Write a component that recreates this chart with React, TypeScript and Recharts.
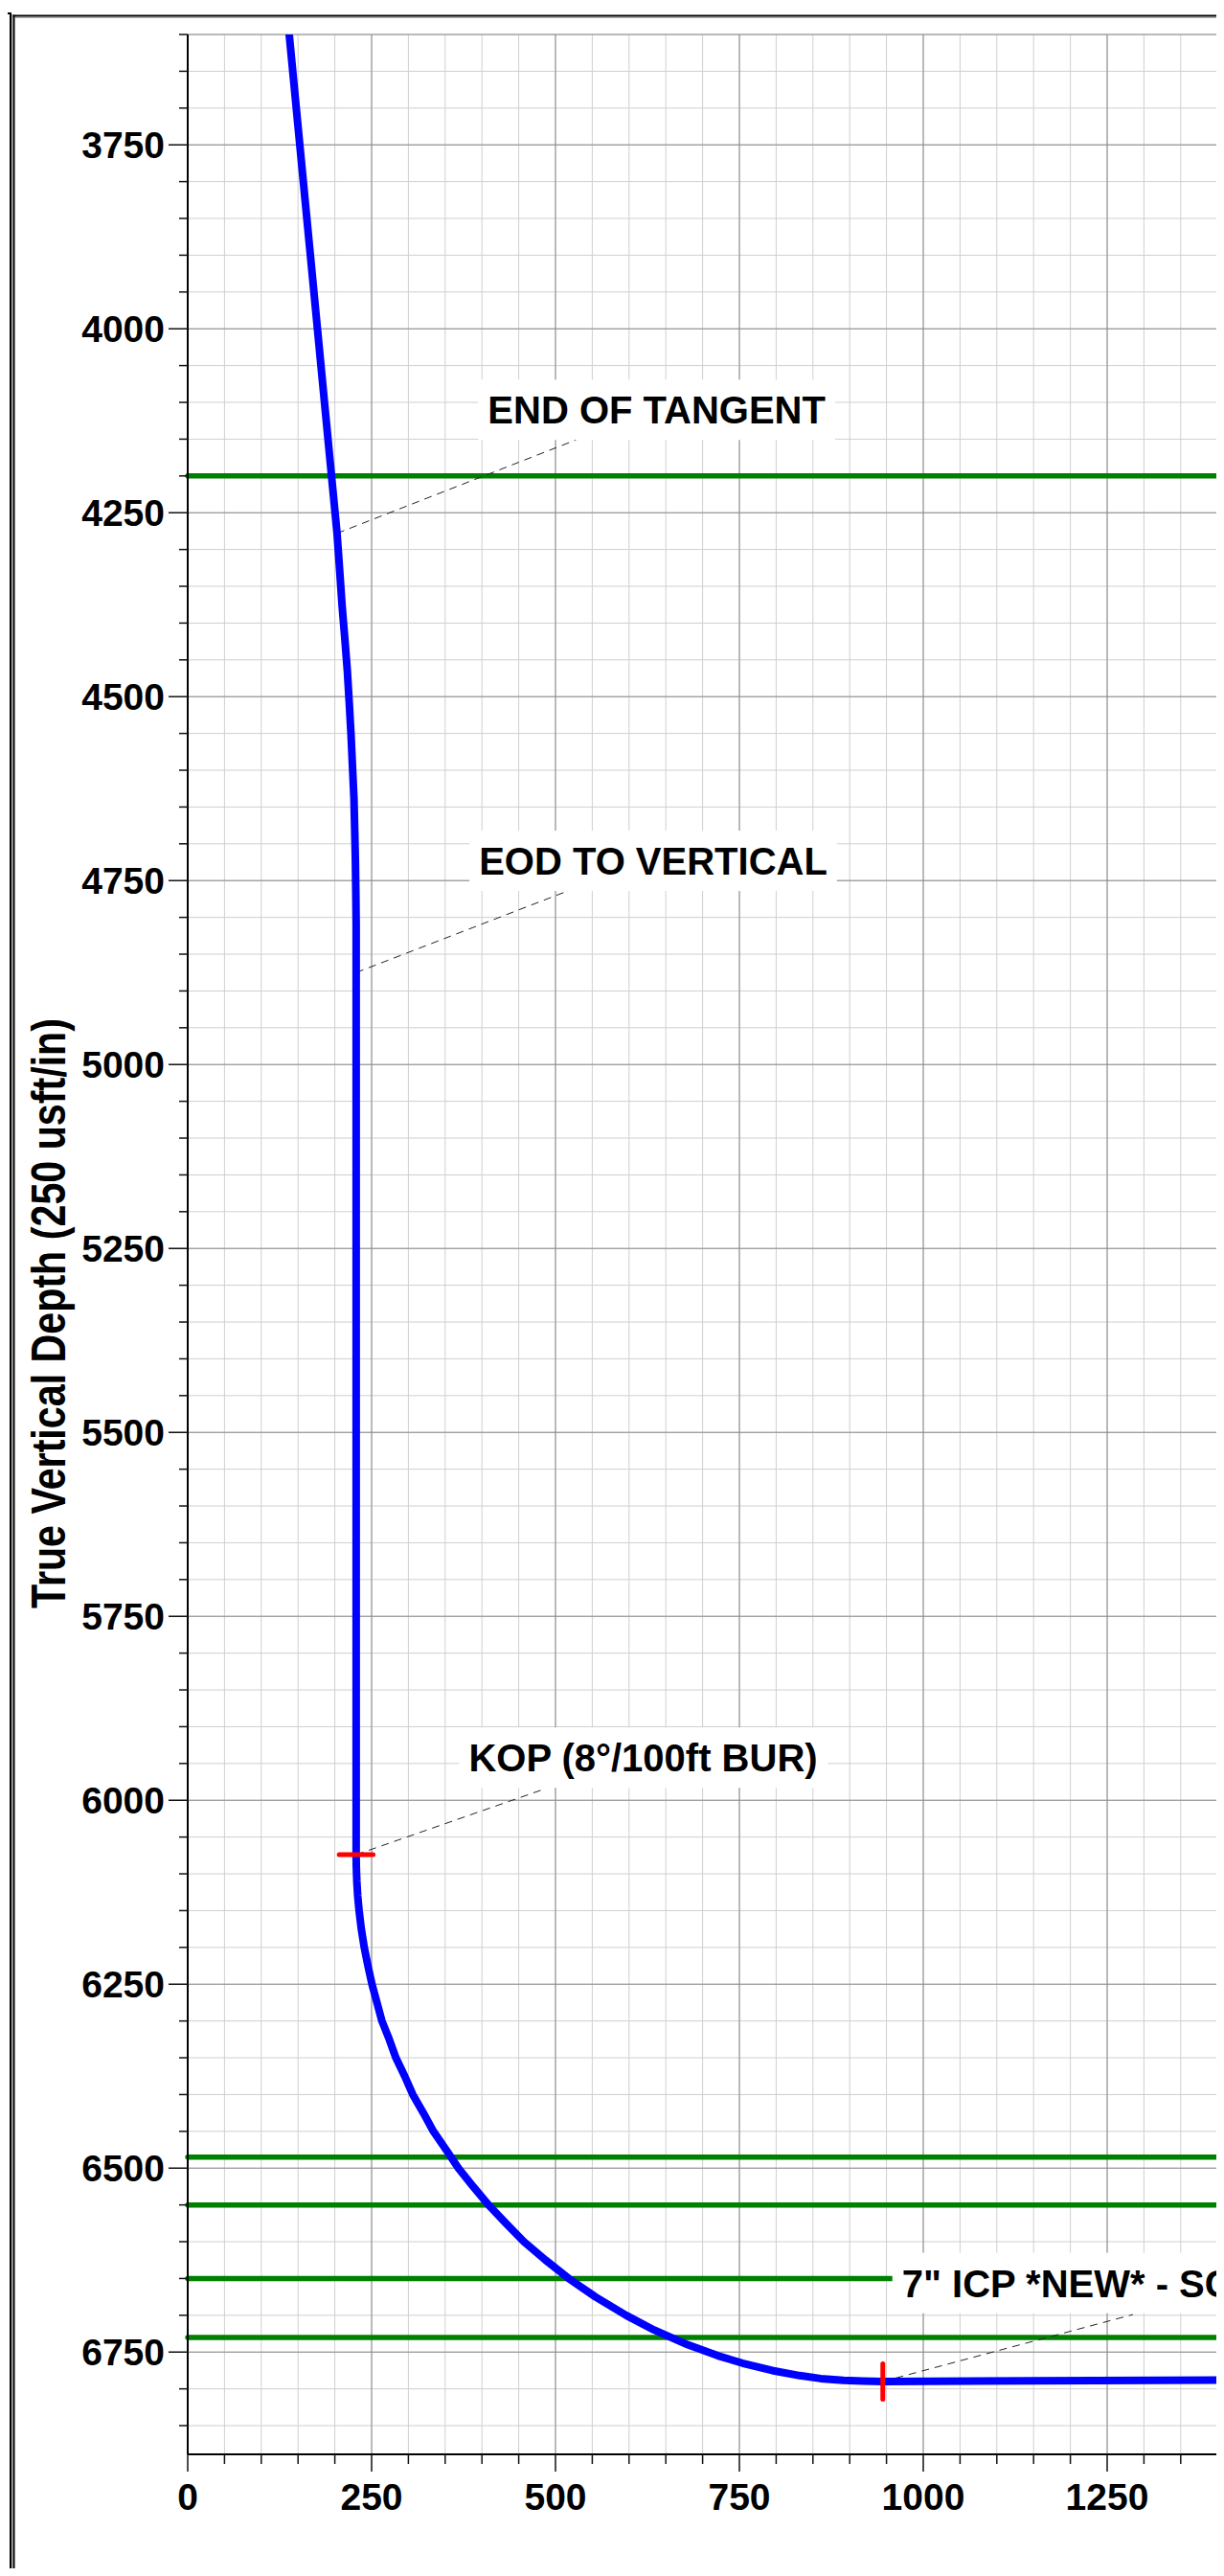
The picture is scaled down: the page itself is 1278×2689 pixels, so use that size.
import React from 'react';
import { LineChart, Line, XAxis, YAxis, CartesianGrid, ReferenceLine, ReferenceDot } from 'recharts';

// Well path: horizontal displacement (usft) vs TVD (usft)
const pathX = [
  138, 203, 206, 210, 213.5, 217, 219.7, 222, 224, 226, 227, 228, 228.6, 229, 229, 229,
  229.2, 229.9, 231.1, 233, 236, 240, 245, 250.5, 257.3, 264, 274, 283, 295, 306, 320.4, 334, 351.2, 368,
  388, 409, 432.5, 457, 486.5, 518, 554.3, 596, 634, 679.7, 720.8, 754, 794.5, 832, 860.5, 891.5, 918, 945,
  1409, 1500,
];
const pathTvd = [
  3600, 4278, 4320, 4378, 4420, 4465, 4510, 4551, 4595, 4638, 4680, 4725, 4770, 4810, 4875, 6074,
  6090, 6110, 6130, 6150, 6175, 6200, 6225, 6250, 6275, 6300, 6325, 6350, 6375, 6400, 6425, 6450, 6475, 6500,
  6525, 6550, 6575, 6600, 6625, 6650, 6675, 6700, 6720, 6740, 6755, 6765, 6775, 6782, 6786, 6788.5, 6789.5, 6790,
  6788, 6787,
];

// formation tops (green)
const formationTops = [4200, 6485, 6550, 6650, 6730];

// annotations: point on path, text anchor (left/baseline), leader end
const annoText = ['END OF TANGENT', 'EOD TO VERTICAL', 'KOP (8°/100ft BUR)', '7" ICP *NEW* - SC'];
const annoPointX = [203, 229, 229, 945];
const annoPointY = [4278, 4875, 6074, 6790];
const annoTextX = [408, 396, 382, 971];
const annoTextY = [4129, 4742, 5961, 6675];
const annoTipX = [528, 517, 487, 1285];
const annoTipY = [4151, 4764, 5984, 6699];

const xTicks = [0, 50, 100, 150, 200, 250, 300, 350, 400, 450, 500, 550, 600, 650, 700, 750, 800, 850, 900, 950, 1000, 1050, 1100, 1150, 1200, 1250, 1300, 1350, 1400, 1450, 1500];
const xMajor = [0, 250, 500, 750, 1000, 1250, 1500];
const yTicks = [
  3600, 3650, 3700, 3750, 3800, 3850, 3900, 3950, 4000, 4050, 4100, 4150, 4200, 4250, 4300, 4350, 4400, 4450, 4500, 4550,
  4600, 4650, 4700, 4750, 4800, 4850, 4900, 4950, 5000, 5050, 5100, 5150, 5200, 5250, 5300, 5350, 5400, 5450, 5500, 5550,
  5600, 5650, 5700, 5750, 5800, 5850, 5900, 5950, 6000, 6050, 6100, 6150, 6200, 6250, 6300, 6350, 6400, 6450, 6500, 6550,
  6600, 6650, 6700, 6750, 6800, 6850,
];
const yMajor = [3600, 3750, 4000, 4250, 4500, 4750, 5000, 5250, 5500, 5750, 6000, 6250, 6500, 6750];

const FONT = '"Liberation Sans", Arial, sans-serif';
const NARROW = '"Liberation Sans Narrow", "Arial Narrow", "Liberation Sans", Arial, sans-serif';

const wellPath = pathX.map((x, i) => ({ x, tvd: pathTvd[i] }));

let ctx: CanvasRenderingContext2D | null = null;
const textWidth = (t: string) => {
  if (!ctx) ctx = document.createElement('canvas').getContext('2d');
  if (!ctx) return t.length * 24;
  ctx.font = `bold 40px ${FONT}`;
  return ctx.measureText(t).width;
};

const YTick = (props: any) => {
  const { x, y, payload } = props;
  const major = payload.value % 250 === 0;
  return (
    <g>
      <line x1={x - (major ? 20 : 9)} x2={x} y1={y} y2={y} stroke="#111" strokeWidth={1.5} />
      {major && (
        <text x={x - 24} y={y} dy={14} textAnchor="end" fontFamily={FONT} fontWeight="bold" fontSize={39} fill="#000">
          {payload.value}
        </text>
      )}
    </g>
  );
};

const XTick = (props: any) => {
  const { x, y, payload } = props;
  const major = payload.value % 250 === 0;
  return (
    <g>
      <line x1={x} x2={x} y1={y} y2={y + (major ? 18 : 10)} stroke="#111" strokeWidth={1.5} />
      {major && (
        <text x={x} y={y + 58} textAnchor="middle" fontFamily={FONT} fontWeight="bold" fontSize={39} fill="#000">
          {payload.value}
        </text>
      )}
    </g>
  );
};

const LabelBox = (props: any) => {
  const { cx, cy, text } = props;
  const w = textWidth(text);
  return (
    <g>
      <rect x={cx - 10} y={cy - 46} width={w + 20} height={63} fill="#fff" />
      <text x={cx} y={cy} fontFamily={FONT} fontWeight="bold" fontSize={40} fill="#000">
        {text}
      </text>
    </g>
  );
};

const AxisTitle = (props: any) => {
  const vb = props.viewBox || { x: 0, y: 36, width: 196, height: 2526 };
  const tx = vb.x + 68;
  const ty = 1371;
  return (
    <text
      x={tx}
      y={ty}
      transform={`rotate(-90 ${tx} ${ty})`}
      textAnchor="middle"
      fontFamily={NARROW}
      fontWeight="bold"
      fontSize={50}
      textLength={616}
      lengthAdjust="spacingAndGlyphs"
      fill="#000"
    >
      True Vertical Depth (250 usft/in)
    </text>
  );
};

export default function App() {
  return (
    <div style={{ position: 'relative', width: 1278, height: 2689, margin: -8, overflow: 'hidden', background: '#fff' }}>
      <div style={{ position: 'absolute', left: 0, top: 0 }}>
        <LineChart width={1348} height={2689} margin={{ top: 36, right: 0, bottom: 47, left: 0 }}>
          <CartesianGrid stroke="#cfcfcf" strokeWidth={1} />
          <CartesianGrid stroke="#8c8c8c" strokeWidth={1} horizontalValues={yMajor} verticalValues={xMajor} />
          <XAxis
            type="number"
            dataKey="x"
            domain={[0, 1500]}
            ticks={xTicks}
            interval={0}
            height={80}
            tickLine={false}
            tickSize={0}
            tickMargin={0}
            axisLine={{ stroke: '#000', strokeWidth: 2 }}
            tick={<XTick />}
            allowDataOverflow
          />
          <YAxis
            type="number"
            dataKey="tvd"
            reversed
            domain={[3600, 6889]}
            ticks={yTicks}
            interval={0}
            width={196}
            tickLine={false}
            tickSize={0}
            tickMargin={0}
            axisLine={{ stroke: '#000', strokeWidth: 2 }}
            tick={<YTick />}
            label={(p: any) => <AxisTitle {...p} />}
            allowDataOverflow
          />
          {formationTops.map((v) => (
            <ReferenceLine key={`f-${v}`} y={v} stroke="#008000" strokeWidth={5.5} strokeLinecap="round" />
          ))}
          {annoText.map((t, i) => (
            <ReferenceDot
              key={`lb-${i}`}
              x={annoTextX[i]}
              y={annoTextY[i]}
              r={0}
              ifOverflow="visible"
              shape={(p: any) => <LabelBox {...p} text={t} />}
            />
          ))}
          {annoText.map((t, i) => (
            <ReferenceLine
              key={`ld-${i}`}
              segment={[
                { x: annoPointX[i], y: annoPointY[i] },
                { x: annoTipX[i], y: annoTipY[i] },
              ]}
              stroke="#222"
              strokeWidth={1}
              strokeDasharray="8 6"
            />
          ))}
          <Line
            data={wellPath}
            dataKey="tvd"
            type="linear"
            stroke="#0000ff"
            strokeWidth={8}
            strokeLinecap="round"
            strokeLinejoin="round"
            dot={false}
            activeDot={false}
            isAnimationActive={false}
          />
          <ReferenceLine
            segment={[
              { x: 206, y: 6074 },
              { x: 252, y: 6074 },
            ]}
            stroke="#ff0000"
            strokeWidth={5}
            strokeLinecap="round"
          />
          <ReferenceLine
            segment={[
              { x: 945, y: 6766 },
              { x: 945, y: 6814 },
            ]}
            stroke="#ff0000"
            strokeWidth={5}
            strokeLinecap="round"
          />
        </LineChart>
      </div>
      <svg width={1278} height={2689} style={{ position: 'absolute', left: 0, top: 0, pointerEvents: 'none' }}>
        <line x1={0} x2={12} y1={14} y2={14} stroke="#000" strokeWidth={2} />
        <line x1={11} x2={11} y1={13} y2={2689} stroke="#000" strokeWidth={2} />
        <line x1={12.8} x2={12.8} y1={15} y2={2689} stroke="#999" strokeWidth={1} />
        <line x1={14.5} x2={14.5} y1={15.5} y2={2689} stroke="#000" strokeWidth={2} />
        <line x1={13.5} x2={1278} y1={16.5} y2={16.5} stroke="#000" strokeWidth={2} />
        <line x1={16} x2={1278} y1={18.5} y2={18.5} stroke="#aaa" strokeWidth={1} />
        <text x={-9} y={2668} fontFamily={FONT} fontWeight="bold" fontSize={48} fill="#000">
          )
        </text>
      </svg>
    </div>
  );
}
